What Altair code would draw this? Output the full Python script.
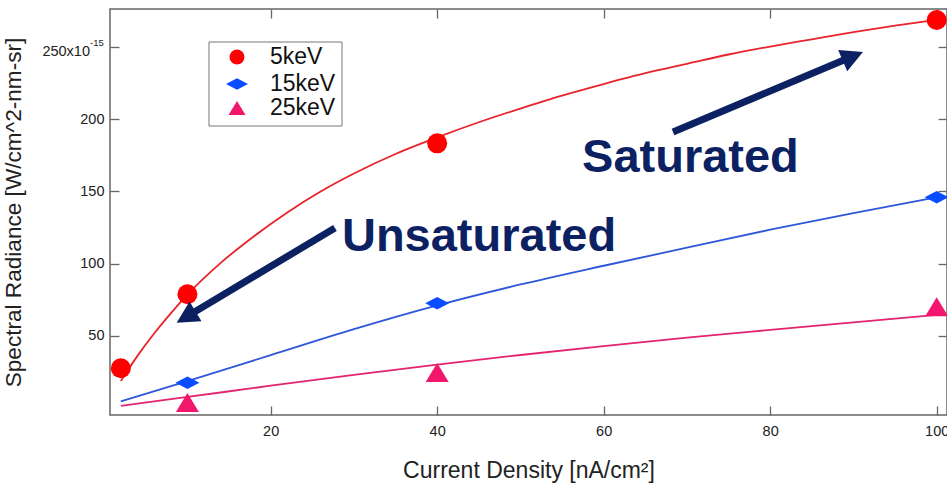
import altair as alt
import pandas as pd

FONT = "Liberation Sans"
NAVY = "#0b2161"
FRAME = "#666666"

series = ["5keV", "15keV", "25keV"]
marker_colors = ["#ff0000", "#0a4cff", "#f2176c"]
line_colors = ["#e8232b", "#2e57d9", "#e3246f"]
shape_paths = ["circle", "M-1.2,0L0,-0.62L1.2,0L0,0.62Z", "M0,-0.95L1.15,0.95L-1.15,0.95Z"]

# measured points
x_5 = [2, 10, 40, 100]
y_5 = [27.4, 78.7, 183.4, 268.9]
x_15 = [10, 40, 100]
y_15 = [17.4, 72.5, 146.0]
x_25 = [10, 40, 100]
y_25 = [3.7, 24.5, 70.1]

# fitted curves
fit_x_5 = [2, 4, 6, 8, 10, 14, 18, 22, 26, 30, 35, 40, 45, 50, 55, 60, 65, 70, 75, 80, 85, 90, 95, 100]
fit_y_5 = [18.5, 36, 51.5, 65.5, 78.5, 100.5, 119, 135.5, 150, 162.5, 176, 187.5, 198, 207.5, 216.5, 224.5,
           232, 238.5, 245, 250.5, 255.5, 260.5, 265, 269]
fit_x_15 = [2, 10, 20, 30, 40, 50, 60, 70, 80, 90, 100]
fit_y_15 = [4.5, 18.5, 36.5, 54.5, 71, 85.5, 98.5, 111, 123.5, 135, 146]
fit_x_25 = [2, 10, 20, 30, 40, 50, 60, 70, 80, 90, 100]
fit_y_25 = [1.4, 7.5, 15.3, 22.8, 30, 36.6, 42.8, 48.6, 54, 59.3, 64.4]

x_ticks = [20, 40, 60, 80, 100]
y_ticks = [50, 100, 150, 200, 250]

annot_text = ["Unsaturated", "Saturated"]
annot_x = [28.56, 57.4]
annot_y = [108.7, 163.5]

arrow_x = [27.72, 68.33]
arrow_y = [124.7, 191.3]
arrow_x2 = [9.84, 89.93]
arrow_y2 = [62.97, 243.8]
arrow_angle = [239, 67]

# ---- tables
pts = pd.DataFrame({
    "x": x_5 + x_15 + x_25,
    "y": y_5 + y_15 + y_25,
    "series": ["5keV"] * len(x_5) + ["15keV"] * len(x_15) + ["25keV"] * len(x_25),
})
fits = pd.DataFrame({
    "x": fit_x_5 + fit_x_15 + fit_x_25,
    "y": fit_y_5 + fit_y_15 + fit_y_25,
    "series": ["5keV"] * len(fit_x_5) + ["15keV"] * len(fit_x_15) + ["25keV"] * len(fit_x_25),
})
annots = pd.DataFrame({"text": annot_text, "x": annot_x, "y": annot_y})
arrows = pd.DataFrame({"x": arrow_x, "y": arrow_y, "x2": arrow_x2, "y2": arrow_y2, "angle": arrow_angle})

xs = alt.Scale(domain=[0.7, 101.24], nice=False, zero=False)
ys = alt.Scale(domain=[-5.0, 276.55], nice=False, zero=False)


def tick_axis(orient, values):
    return alt.Axis(orient=orient, values=values, offset=-9, labels=False, domain=False,
                    ticks=True, tickSize=9, tickColor=FRAME, tickWidth=1.3, title=None, grid=False)


x_main = alt.Axis(values=x_ticks, ticks=False, tickSize=0, domain=False, grid=False,
                  labelPadding=9, labelFontSize=14.5, labelFont=FONT, labelColor="#222",
                  labelFlush=False, labelOverlap=False,
                  title="Current Density [nA/cm²]", titleFont=FONT, titleFontSize=23,
                  titleFontWeight="normal", titleColor="#222", titleX=418.5, titleY=62,
                  titleAlign="center", titleBaseline="alphabetic")
y_main = alt.Axis(values=y_ticks, ticks=False, tickSize=0, domain=False, grid=False,
                  labelPadding=6, labelFontSize=14.5, labelFont=FONT, labelColor="#222",
                  labelOverlap=False,
                  labelExpr="datum.value == 250 ? '' : datum.label",
                  title="Spectral Radiance [W/cm^2-nm-sr]", titleFont=FONT, titleFontSize=22.6,
                  titleFontWeight="normal", titleColor="#222", titleX=-97, titleY=203,
                  titleAngle=270, titleAlign="center", titleBaseline="middle")

lines = alt.Chart(fits).mark_line(strokeWidth=1.8, interpolate="monotone").encode(
    x=alt.X("x:Q", scale=xs, axis=x_main),
    y=alt.Y("y:Q", scale=ys, axis=y_main),
    stroke=alt.Stroke("series:N", scale=alt.Scale(domain=series, range=line_colors), legend=None),
    detail="series:N",
)

points = alt.Chart(pts).mark_point(filled=True, opacity=1, size=400).encode(
    x=alt.X("x:Q", scale=xs, axis=tick_axis("bottom", x_ticks)),
    y=alt.Y("y:Q", scale=ys, axis=tick_axis("left", y_ticks)),
    color=alt.Color("series:N", scale=alt.Scale(domain=series, range=marker_colors), legend=None),
    shape=alt.Shape("series:N", scale=alt.Scale(domain=series, range=shape_paths), legend=None),
)

shafts = alt.Chart(arrows).mark_rule(strokeWidth=7, color=NAVY, strokeCap="butt").encode(
    x=alt.X("x:Q", scale=xs, axis=None),
    y=alt.Y("y:Q", scale=ys, axis=None),
    x2="x2:Q",
    y2="y2:Q",
)
heads = alt.Chart(arrows).mark_point(filled=True, opacity=1, color=NAVY, size=484,
                                     shape="M0,-1L1.05,1L-1.05,1Z").encode(
    x=alt.X("x2:Q", scale=xs, axis=None),
    y=alt.Y("y2:Q", scale=ys, axis=None),
    angle=alt.Angle("angle:Q", scale=None),
)

texts = alt.Chart(annots).mark_text(font=FONT, fontWeight="bold", color=NAVY, align="left",
                                    baseline="alphabetic", fontSize=47).encode(
    x=alt.X("x:Q", scale=xs, axis=tick_axis("top", x_ticks)),
    y=alt.Y("y:Q", scale=ys, axis=tick_axis("right", y_ticks)),
    text="text:N",
)

top_label = alt.Chart(pd.DataFrame({"y": [250], "t": ["250x10"]})).mark_text(
    font=FONT, fontSize=14.5, color="#222", align="right", baseline="middle", dy=4.4).encode(
    x=alt.value(-20),
    y=alt.Y("y:Q", scale=ys, axis=None),
    text="t:N",
)
top_exp = alt.Chart(pd.DataFrame({"y": [250], "t": ["-15"]})).mark_text(
    font=FONT, fontSize=9.5, color="#222", align="left", baseline="middle", dy=-4.3).encode(
    x=alt.value(-20),
    y=alt.Y("y:Q", scale=ys, axis=None),
    text="t:N",
)

# ---- legend box (drawn as guide marks inside the plot)
one = pd.DataFrame({"a": [0]})
legend_box = alt.Chart(one).mark_rect(fill="white", stroke="#777", strokeWidth=1).encode(
    x=alt.value(99), x2=alt.value(232), y=alt.value(33), y2=alt.value(117)
)
legend_rows_y = [48, 75, 99]
legend_sym_sizes = [225, 336, 219]
legend_layers = [legend_box]
for i, name in enumerate(series):
    legend_layers.append(
        alt.Chart(one).mark_point(filled=True, opacity=1, shape=shape_paths[i],
                                  size=legend_sym_sizes[i], color=marker_colors[i]).encode(
            x=alt.value(127), y=alt.value(legend_rows_y[i])
        )
    )
    legend_layers.append(
        alt.Chart(one).mark_text(text=name, font=FONT, fontSize=23, color="#111",
                                 align="left", baseline="middle").encode(
            x=alt.value(160), y=alt.value(legend_rows_y[i])
        )
    )

chart = alt.layer(lines, points, shafts, heads, texts, top_label, top_exp,
                  *legend_layers).resolve_axis(
    x="independent", y="independent"
).properties(
    width=837, height=406,
    padding={"left": 110, "top": 9, "right": 0, "bottom": 68},
    autosize=alt.AutoSizeParams(type="none"),
    background="white",
).configure_view(stroke=FRAME, strokeWidth=1.5)

chart.save("out.html", embed_options={"renderer": "svg", "actions": False})
